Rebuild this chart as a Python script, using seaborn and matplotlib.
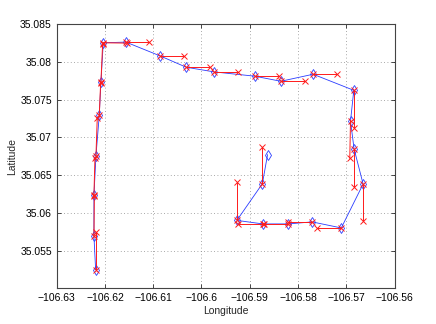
import numpy as np
import pandas as pd
import seaborn as sns
import matplotlib
matplotlib.use("Agg")
import matplotlib.pyplot as plt

# estimated track (blue diamonds)
est_lon = [-106.62193, -106.62228, -106.62228, -106.62186, -106.62118, -106.62083,
           -106.62035, -106.61565, -106.60861, -106.60317, -106.59737, -106.58894,
           -106.58356, -106.57687, -106.56845, -106.56913, -106.56839, -106.56652,
           -106.57104, -106.57708, -106.58201, -106.58729, -106.59267, -106.58739,
           -106.58631]
est_lat = [35.05246, 35.05694, 35.06236, 35.06760, 35.07292, 35.07736,
           35.08255, 35.08264, 35.08082, 35.07931, 35.07869, 35.07812,
           35.07745, 35.07838, 35.07625, 35.07216, 35.06849, 35.06383,
           35.05801, 35.05881, 35.05854, 35.05854, 35.05901, 35.06387,
           35.06773]

# predicted positions (red x), one per estimate except the last
pred_lon = [-106.62193, -106.62220, -106.62207, -106.62159, -106.62089, -106.62048,
            -106.61545, -106.61083, -106.60364, -106.59826, -106.59240, -106.58397,
            -106.57865, -106.57190, -106.56845, -106.56928, -106.56839, -106.56652,
            -106.57600, -106.58211, -106.58708, -106.59236, -106.59267, -106.58739]
pred_lat = [35.05748, 35.06220, 35.06733, 35.07262, 35.07722, 35.08238,
            35.08251, 35.08264, 35.08082, 35.07931, 35.07869, 35.07812,
            35.07745, 35.07838, 35.07123, 35.06724, 35.06347, 35.05894,
            35.05801, 35.05881, 35.05854, 35.05854, 35.06407, 35.06880]

track = pd.DataFrame({"lon": est_lon, "lat": est_lat})

# one short segment from each estimate to its prediction
rows = []
for i in range(len(pred_lon)):
    rows.append({"seg": i, "lon": est_lon[i], "lat": est_lat[i]})
    rows.append({"seg": i, "lon": pred_lon[i], "lat": pred_lat[i]})
segs = pd.DataFrame(rows)

sns.set_style("white")
plt.rcParams["font.family"] = ["Liberation Sans", "DejaVu Sans"]

fig, ax = plt.subplots(figsize=(4.36, 3.24), dpi=100)
fig.subplots_adjust(left=0.13, right=0.905, bottom=0.11, top=0.925)

sns.lineplot(data=track, x="lon", y="lat", sort=False, estimator=None,
             color="#2a3cff", lw=0.6, marker="d", markersize=5,
             markerfacecolor="none", markeredgecolor="#2a3cff", markeredgewidth=0.6, ax=ax)
sns.lineplot(data=segs, x="lon", y="lat", units="seg", estimator=None, sort=False,
             color="#ff1a1a", lw=0.7, marker="x", markersize=4,
             markeredgecolor="#ff1a1a", markeredgewidth=0.7, ax=ax)

ax.set_xlim(-106.63, -106.56)
ax.set_ylim(35.05, 35.085)
ax.set_xticks(np.arange(-106.63, -106.5595, 0.01))
ax.set_xticklabels(["\u2212106.63", "\u2212106.62", "\u2212106.61", "\u2212106.6",
                    "\u2212106.59", "\u2212106.58", "\u2212106.57", "\u2212106.56"])
yt = [35.055, 35.06, 35.065, 35.07, 35.075, 35.08, 35.085]
ax.set_yticks(yt)
ax.set_yticklabels(["35.055", "35.06", "35.065", "35.07", "35.075", "35.08", "35.085"])

ax.grid(True, ls=(0, (1, 3)), color="#8c8c8c", lw=0.6)
ax.tick_params(direction="in", length=3, width=0.5, labelsize=7.5,
               top=True, right=True, bottom=True, left=True, colors="black")
for s in ax.spines.values():
    s.set_color("#444444")
    s.set_linewidth(0.8)

ax.set_xlabel("Longitude", fontsize=7.5, labelpad=2)
ax.set_ylabel("Latitude", fontsize=7.5, labelpad=2)

fig.savefig("out.png", dpi=100)
